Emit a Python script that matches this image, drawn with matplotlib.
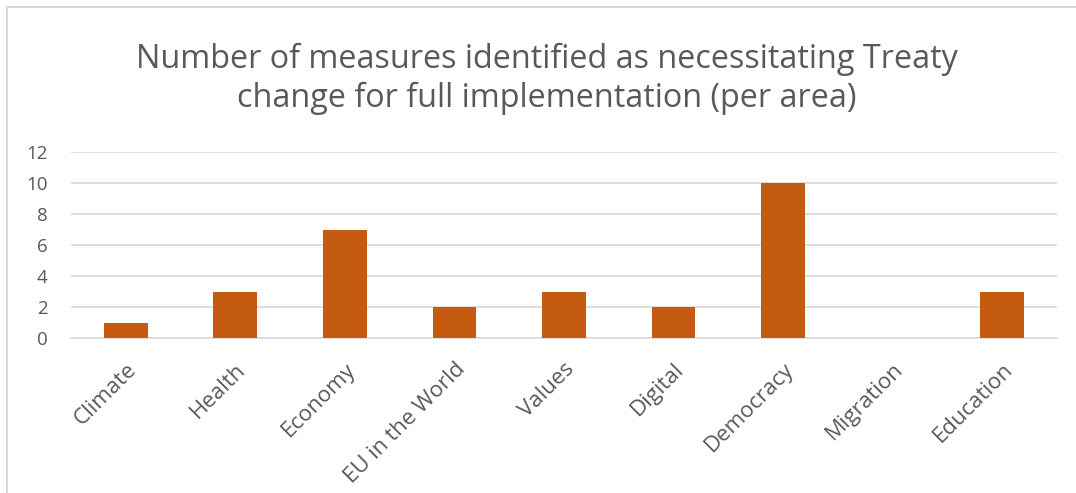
import matplotlib
matplotlib.use("Agg")
import matplotlib.pyplot as plt
from matplotlib.lines import Line2D

categories = ["Climate", "Health", "Economy", "EU in the World", "Values",
              "Digital", "Democracy", "Migration", "Education"]
values = [1, 3, 7, 2, 3, 2, 10, 0, 3]
yticks = [0, 2, 4, 6, 8, 10, 12]
title = "Number of measures identified as necessitating Treaty\nchange for full implementation (per area)"

plt.rcParams['font.family'] = ['Open Sans', 'DejaVu Sans']
text_color = "#595959"
grid_color = "#D9D9D9"
bar_color = "#C55A11"

fig = plt.figure(figsize=(10.76, 4.93), dpi=100)
ax = fig.add_axes([71/1076, 1 - 338/493, (1057-71)/1076, (338-152)/493])

x = list(range(len(categories)))
ax.bar(x, values, width=0.4, color=bar_color, zorder=3)
ax.set_xlim(-0.5, len(categories) - 0.5)
ax.set_ylim(0, 12)
ax.set_yticks(yticks)
ax.set_yticklabels([str(v) for v in yticks], fontsize=13.5, color=text_color)
ax.set_xticks(x)
ax.set_xticklabels(categories, rotation=45, ha='right', rotation_mode='anchor',
                   fontsize=16, color=text_color)
ax.tick_params(axis='both', length=0)
ax.tick_params(axis='y', pad=17)
ax.tick_params(axis='x', pad=15)
ax.yaxis.grid(True, color=grid_color, linewidth=1.2, zorder=0)
for s in ['top', 'right', 'left']:
    ax.spines[s].set_visible(False)
ax.spines['bottom'].set_color(grid_color)
ax.spines['bottom'].set_linewidth(1.2)

fig.text(547/1076, 1 - 79/493, title, ha='center', va='center', fontsize=23.3,
         color=text_color, linespacing=1.25)

# chart frame (partially visible)
fig.add_artist(Line2D([7/1076, 1], [1 - 7/493, 1 - 7/493], transform=fig.transFigure,
                      color=grid_color, linewidth=1.5))
fig.add_artist(Line2D([7/1076, 7/1076], [0, 1 - 7/493], transform=fig.transFigure,
                      color=grid_color, linewidth=1.5))

fig.savefig("out.png", dpi=100, facecolor="white")
